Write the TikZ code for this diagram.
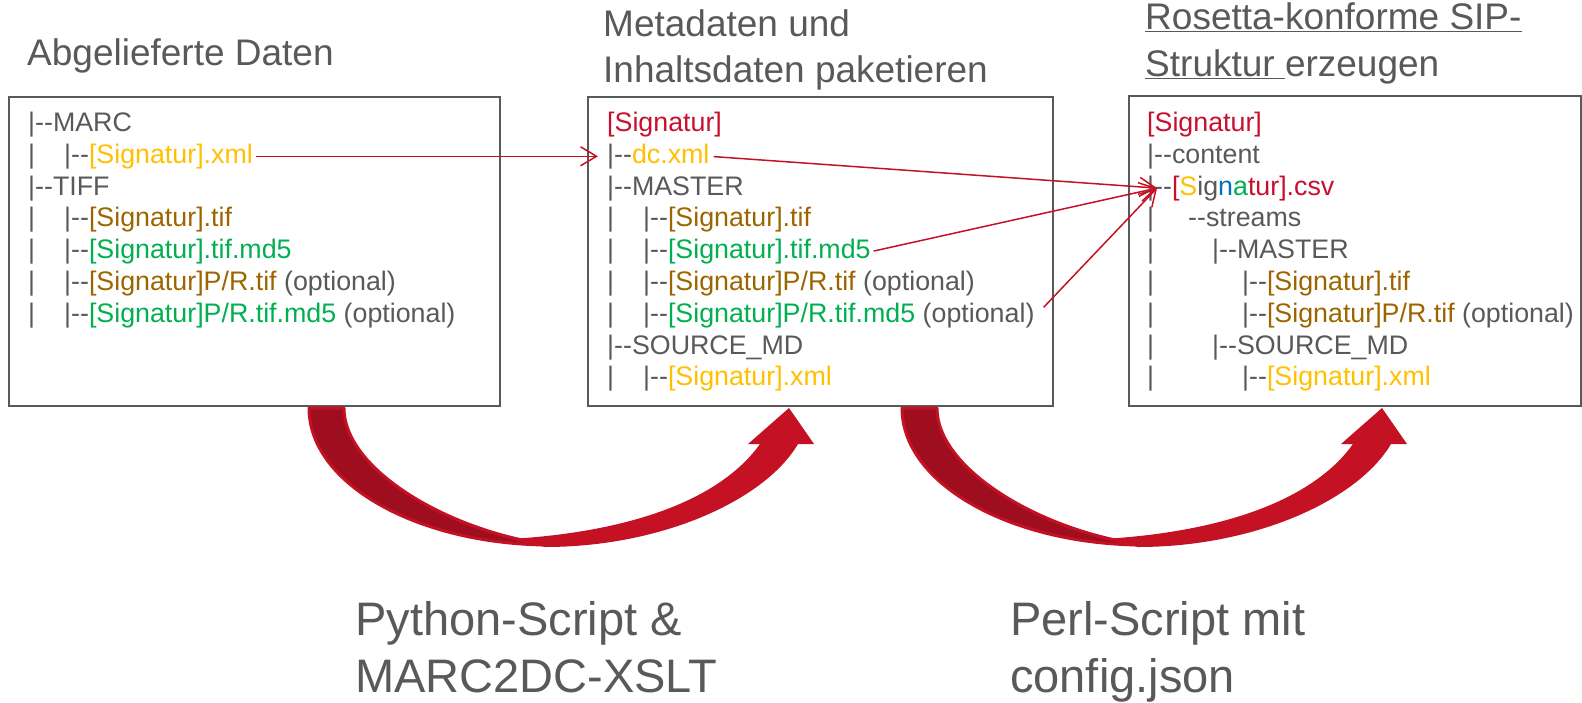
\documentclass[tikz,border=0pt]{standalone}
\usepackage{fontspec}
\setmainfont{Liberation Sans}
\usetikzlibrary{positioning,arrows.meta}

\definecolor{tgrey}{RGB}{89,89,89}
\definecolor{sigred}{RGB}{200,16,46}
\definecolor{sigyellow}{RGB}{255,192,0}
\definecolor{sigbrown}{RGB}{156,101,0}
\definecolor{siggreen}{RGB}{0,176,80}
\definecolor{sigblue}{RGB}{0,112,192}
\definecolor{arrred}{RGB}{196,18,36}
\definecolor{arrdark}{RGB}{158,14,30}

\newcommand{\treebar}[1]{\makebox[#1][l]{|}}
\newcommand{\dd}{-{}-}
\newcommand{\red}[1]{\textcolor{sigred}{#1}}
\newcommand{\ylw}[1]{\textcolor{sigyellow}{#1}}
\newcommand{\brn}[1]{\textcolor{sigbrown}{#1}}
\newcommand{\grn}[1]{\textcolor{siggreen}{#1}}

\begin{document}
\begin{tikzpicture}[x=1pt,y=-1pt,
  box/.style={draw=tgrey,line width=2pt,anchor=north west,inner sep=0pt},
  row/.style={anchor=base west,inner sep=0pt,text height=19pt,text depth=5pt,
    text=tgrey,font=\fontsize{26.8}{31.8}\selectfont},
  rowbelow/.style={below=31.8pt of #1.base west,anchor=base west},
  head/.style={anchor=base west,inner sep=0pt,text=tgrey,
    font=\fontsize{37}{46}\selectfont},
  toolname/.style={anchor=base west,inner sep=0pt,text=tgrey,
    font=\fontsize{47}{57}\selectfont},
  link/.style={draw=arrred,line width=1.5pt,
    -{Straight Barb[length=16pt,width=19pt]}}]
\useasboundingbox (0,0) rectangle (1582,702);

% headings
\node[head] (h1) at (27,65) {Abgelieferte Daten};
\node[head] (h2a) at (603,36) {Metadaten und};
\node[head,below=46pt of h2a.base west,anchor=base west] (h2b) {Inhaltsdaten paketieren};
\node[head] (h3a) at (1145,29) {\underline{\mbox{Rosetta-konforme SIP-}}};
\node[head,below=47pt of h3a.base west,anchor=base west] (h3b) {\underline{\mbox{Struktur\ }}erzeugen};

% boxes
\node[box,minimum width=491pt,minimum height=309pt] (b1) at (8,96) {};
\node[box,minimum width=465pt,minimum height=309pt] (b2) at (587,96) {};
\node[box,minimum width=452pt,minimum height=310pt] (b3) at (1128,95) {};

% delivered data
\node[row] (b1r1) at (28,131.5) {|\dd MARC};
\node[row,rowbelow=b1r1] (b1r2) {\treebar{36pt}|\dd\ylw{[Signatur].xml}};
\node[row,rowbelow=b1r2] (b1r3) {|\dd TIFF};
\node[row,rowbelow=b1r3] (b1r4) {\treebar{36pt}|\dd\brn{[Signatur].tif}};
\node[row,rowbelow=b1r4] (b1r5) {\treebar{36pt}|\dd\grn{[Signatur].tif.md5}};
\node[row,rowbelow=b1r5] (b1r6) {\treebar{36pt}|\dd\brn{[Signatur]P/R.tif} (optional)};
\node[row,rowbelow=b1r6] (b1r7) {\treebar{36pt}|\dd\grn{[Signatur]P/R.tif.md5} (optional)};

% packaged data
\node[row] (b2r1) at (607,131.5) {\red{[Signatur]}};
\node[row,rowbelow=b2r1] (b2r2) {|\dd\ylw{dc.xml}};
\node[row,rowbelow=b2r2] (b2r3) {|\dd MASTER};
\node[row,rowbelow=b2r3] (b2r4) {\treebar{36pt}|\dd\brn{[Signatur].tif}};
\node[row,rowbelow=b2r4] (b2r5) {\treebar{36pt}|\dd\grn{[Signatur].tif.md5}};
\node[row,rowbelow=b2r5] (b2r6) {\treebar{36pt}|\dd\brn{[Signatur]P/R.tif} (optional)};
\node[row,rowbelow=b2r6] (b2r7) {\treebar{36pt}|\dd\grn{[Signatur]P/R.tif.md5} (optional)};
\node[row,rowbelow=b2r7] (b2r8) {|\dd SOURCE\_MD};
\node[row,rowbelow=b2r8] (b2r9) {\treebar{36pt}|\dd\ylw{[Signatur].xml}};

% SIP structure
\node[row] (b3r1) at (1147,131.5) {\red{[Signatur]}};
\node[row,rowbelow=b3r1] (b3r2) {|\dd content};
\node[row,rowbelow=b3r2] (b3r3) {|\dd\red{[}\ylw{S}ig\textcolor{sigblue}{n}\grn{a}\red{tur].csv}};
\node[row,rowbelow=b3r3] (b3r4) {\treebar{41pt}\dd streams};
\node[row,rowbelow=b3r4] (b3r5) {\treebar{65pt}|\dd MASTER};
\node[row,rowbelow=b3r5] (b3r6) {\treebar{95pt}|\dd\brn{[Signatur].tif}};
\node[row,rowbelow=b3r6] (b3r7) {\treebar{95pt}|\dd\brn{[Signatur]P/R.tif} (optional)};
\node[row,rowbelow=b3r7] (b3r8) {\treebar{65pt}|\dd SOURCE\_MD};
\node[row,rowbelow=b3r8] (b3r9) {\treebar{95pt}|\dd\ylw{[Signatur].xml}};

% file links
\draw[link,shorten <=3pt] (b1r2.east) -- ([xshift=-9pt]b2r2.west);
\draw[link,shorten <=4pt] (b2r2.east) -- ([xshift=10pt]b3r3.west);
\draw[link,shorten <=3pt] (b2r5.east) -- ([xshift=10pt]b3r3.west);
\draw[link] ([xshift=9pt,yshift=8pt]b2r7.east) -- ([xshift=10pt]b3r3.west);

% big curved arrows
\foreach \dx in {0,593} {
  \begin{scope}[xshift=\dx pt]
    \filldraw[fill=arrdark,draw=arrred,line width=3pt,line join=round]
      (309,408) .. controls (309,485) and (420,545) .. (551,545)
      .. controls (450,532) and (344,470) .. (344,408) -- cycle;
    \fill[arrred,line join=round] (545,547) .. controls (662,547) and (765,500) .. (798,444)
      -- (814,444) -- (789,408) -- (748,444) -- (760,444)
      .. controls (720,500) and (630,532) .. (510,539) -- cycle;
  \end{scope}
}

% tools
\node[toolname] (py1) at (355,635) {Python-Script \&};
\node[toolname,below=57pt of py1.base west,anchor=base west] (py2) {MARC2DC-XSLT};
\node[toolname] (pl1) at (1010,635) {Perl-Script mit};
\node[toolname,below=57pt of pl1.base west,anchor=base west] (pl2) {config.json};
\end{tikzpicture}
\end{document}
